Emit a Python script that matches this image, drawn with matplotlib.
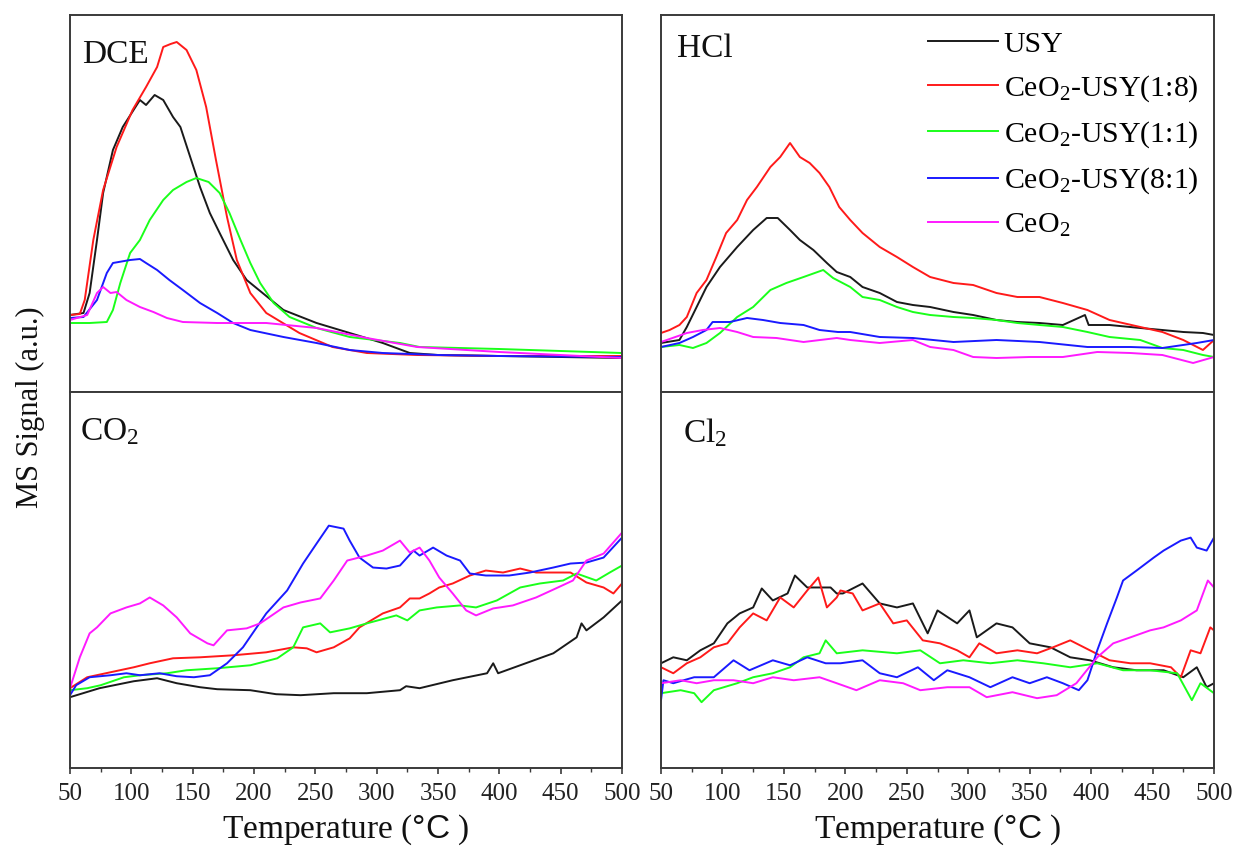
import matplotlib
matplotlib.use("Agg")
import matplotlib.pyplot as plt
from matplotlib.ticker import MultipleLocator

plt.rcParams["font.family"] = ["Liberation Serif", "DejaVu Serif"]
plt.rcParams["mathtext.fontset"] = "custom"
plt.rcParams["mathtext.rm"] = "Liberation Serif"
plt.rcParams["mathtext.it"] = "Liberation Serif:italic"
plt.rcParams["mathtext.bf"] = "Liberation Serif:bold"
plt.rcParams["mathtext.sf"] = "Liberation Sans"

# ---------------------------------------------------------------- samples
samples = ["USY", r"CeO$_2$-USY(1:8)", r"CeO$_2$-USY(1:1)",
           r"CeO$_2$-USY(8:1)", r"CeO$_2$"]
colors = ["#1a1a1a", "#ff1a1a", "#1aff1a", "#1a1aff", "#ff1aff"]

# ---------------------------------------------------------------- DCE
dce_usy_t = [50, 61, 66, 72, 77, 85, 93, 107, 112, 119, 126, 134, 140, 148, 156, 164, 172, 183, 194, 207, 224, 251, 278, 305, 327, 350, 400, 450, 500]
dce_usy_v = [77, 79, 99, 152, 199, 242, 265, 292, 287, 297, 292, 275, 265, 235, 205, 179, 159, 132, 112, 99, 82, 69, 59, 49, 39, 37, 36, 35, 34]
dce_18_t = [50, 58, 62, 69, 77, 88, 101, 112, 121, 126, 132, 137, 145, 153, 161, 169, 178, 186, 197, 210, 237, 264, 292, 333, 400, 450, 500]
dce_18_v = [77, 78, 92, 152, 202, 245, 282, 305, 325, 345, 348, 350, 342, 322, 285, 232, 175, 132, 99, 79, 59, 45, 39, 37, 36, 36, 36]
dce_11_t = [50, 66, 80, 85, 91, 99, 107, 115, 126, 134, 145, 153, 163, 172, 180, 189, 197, 205, 216, 229, 251, 278, 319, 335, 400, 500]
dce_11_v = [69, 69, 70, 82, 109, 139, 152, 172, 192, 202, 210, 214, 210, 199, 179, 152, 129, 109, 89, 75, 64, 55, 49, 45, 43, 39]
dce_81_t = [50, 61, 72, 80, 85, 99, 107, 112, 121, 131, 142, 156, 170, 183, 197, 224, 251, 278, 305, 350, 400, 500]
dce_81_v = [74, 75, 92, 119, 129, 132, 133, 129, 122, 112, 102, 89, 79, 69, 62, 55, 49, 42, 39, 37, 36, 35]
dce_ceo2_t = [50, 64, 72, 77, 83, 88, 96, 107, 118, 129, 142, 170, 210, 251, 292, 333, 400, 500]
dce_ceo2_v = [72, 77, 99, 105, 99, 100, 92, 85, 80, 74, 70, 69, 69, 64, 54, 45, 40, 34]

# ---------------------------------------------------------------- HCl
hcl_usy_t = [50, 65, 71, 79, 87, 98, 112, 125, 136, 145, 155, 163, 174, 185, 193, 204, 214, 228, 242, 255, 269, 288, 304, 323, 340, 358, 377, 395, 398, 415, 440, 458, 475, 491, 500]
hcl_usy_v = [49, 52, 65, 85, 105, 125, 145, 162, 174, 174, 162, 152, 142, 129, 120, 115, 105, 99, 90, 87, 85, 80, 77, 72, 70, 69, 67, 77, 67, 67, 64, 62, 60, 59, 57]
hcl_18_t = [50, 57, 65, 71, 79, 87, 95, 103, 112, 120, 128, 139, 147, 155, 163, 171, 179, 187, 195, 204, 214, 228, 242, 255, 269, 288, 304, 323, 340, 358, 377, 397, 415, 440, 458, 475, 491, 500]
hcl_18_v = [59, 62, 67, 75, 99, 112, 135, 159, 172, 192, 205, 225, 235, 249, 235, 229, 219, 205, 185, 172, 159, 145, 135, 125, 115, 109, 107, 99, 95, 95, 89, 82, 72, 65, 60, 52, 42, 52]
hcl_11_t = [50, 65, 76, 87, 98, 112, 125, 139, 152, 166, 182, 190, 204, 214, 228, 242, 255, 269, 288, 304, 323, 340, 358, 377, 397, 415, 440, 458, 475, 491, 500]
hcl_11_v = [45, 47, 44, 49, 59, 75, 85, 102, 109, 115, 122, 114, 105, 95, 92, 85, 80, 77, 75, 74, 72, 69, 67, 65, 60, 55, 52, 44, 42, 37, 35]
hcl_81_t = [50, 65, 76, 87, 92, 106, 120, 133, 147, 166, 179, 194, 204, 228, 255, 288, 323, 358, 397, 432, 458, 486, 500]
hcl_81_v = [45, 49, 55, 62, 70, 70, 74, 72, 69, 67, 62, 60, 60, 55, 54, 50, 52, 50, 45, 45, 44, 49, 52]
hcl_ceo2_t = [50, 71, 84, 98, 112, 125, 144, 166, 193, 204, 228, 255, 269, 288, 304, 323, 350, 377, 405, 432, 458, 483, 500]
hcl_ceo2_v = [50, 59, 62, 64, 60, 55, 54, 50, 54, 52, 49, 52, 45, 42, 35, 34, 35, 35, 40, 39, 37, 29, 35]

# ---------------------------------------------------------------- CO2
co2_usy_t = [50, 74, 102, 121, 137, 156, 170, 197, 218, 238, 265, 292, 319, 324, 335, 362, 390, 395, 399, 417, 444, 463, 467, 471, 485, 500]
co2_usy_v = [71, 80, 87, 90, 85, 81, 79, 78, 74, 73, 75, 75, 78, 82, 80, 88, 95, 105, 95, 103, 115, 131, 145, 138, 151, 168]
co2_18_t = [50, 64, 83, 102, 115, 134, 156, 183, 210, 232, 243, 251, 265, 278, 286, 305, 319, 327, 335, 343, 351, 362, 376, 389, 403, 417, 430, 444, 458, 471, 485, 493, 500]
co2_18_v = [80, 91, 96, 101, 105, 110, 111, 113, 116, 121, 120, 116, 121, 130, 141, 155, 161, 170, 170, 175, 181, 185, 193, 198, 196, 200, 196, 196, 196, 186, 181, 175, 185]
co2_11_t = [50, 64, 75, 94, 107, 129, 145, 170, 197, 219, 232, 240, 254, 262, 278, 292, 316, 325, 335, 349, 368, 381, 398, 417, 433, 452, 463, 479, 490, 500]
co2_11_v = [78, 80, 83, 91, 93, 95, 98, 100, 103, 110, 121, 141, 145, 136, 140, 145, 153, 148, 158, 161, 163, 161, 168, 181, 185, 188, 195, 188, 196, 203]
co2_81_t = [50, 55, 66, 83, 96, 107, 123, 137, 151, 164, 178, 191, 210, 227, 240, 251, 261, 273, 278, 286, 297, 308, 319, 330, 335, 346, 357, 368, 376, 389, 408, 425, 444, 458, 471, 485, 500]
co2_81_v = [73, 83, 91, 93, 95, 93, 95, 92, 91, 93, 105, 121, 155, 178, 205, 225, 243, 240, 228, 211, 201, 200, 203, 218, 213, 221, 213, 208, 195, 193, 193, 196, 201, 205, 206, 211, 231]
co2_ceo2_t = [50, 58, 66, 72, 83, 96, 107, 115, 126, 137, 148, 162, 167, 178, 194, 205, 224, 238, 254, 265, 276, 292, 305, 319, 327, 335, 343, 351, 362, 373, 381, 395, 411, 430, 446, 460, 471, 485, 500]
co2_ceo2_v = [80, 111, 135, 141, 155, 161, 165, 171, 163, 151, 135, 125, 123, 138, 140, 145, 161, 166, 170, 188, 208, 213, 218, 228, 216, 221, 208, 191, 175, 158, 153, 160, 163, 171, 180, 188, 208, 215, 236]

# ---------------------------------------------------------------- Cl2
cl2_usy_t = [50, 60, 71, 82, 93, 104, 114, 125, 132, 141, 153, 159, 169, 179, 188, 193, 198, 214, 228, 242, 255, 267, 275, 291, 301, 307, 323, 336, 350, 367, 383, 399, 418, 437, 459, 475, 486, 494, 500]
cl2_usy_v = [105, 111, 108, 118, 125, 145, 155, 161, 180, 168, 175, 193, 181, 181, 181, 175, 175, 185, 165, 161, 165, 135, 158, 145, 158, 131, 145, 141, 125, 121, 111, 108, 101, 98, 98, 91, 101, 81, 85]
cl2_18_t = [50, 60, 71, 82, 93, 104, 114, 125, 136, 147, 158, 169, 178, 185, 193, 196, 206, 214, 228, 239, 250, 263, 277, 291, 301, 309, 323, 340, 356, 369, 383, 399, 415, 432, 448, 465, 473, 481, 489, 497, 500]
cl2_18_v = [101, 95, 105, 111, 121, 125, 141, 155, 148, 171, 161, 178, 191, 161, 171, 178, 175, 158, 165, 145, 148, 128, 125, 118, 111, 125, 115, 118, 115, 121, 128, 118, 108, 105, 105, 101, 91, 118, 115, 141, 138]
cl2_11_t = [50, 66, 77, 83, 93, 112, 125, 141, 155, 166, 179, 184, 193, 214, 242, 261, 277, 296, 318, 340, 361, 383, 405, 426, 448, 470, 482, 489, 500]
cl2_11_v = [75, 78, 75, 66, 78, 85, 91, 95, 101, 111, 115, 128, 115, 118, 115, 118, 105, 108, 105, 108, 105, 101, 105, 98, 98, 95, 68, 85, 75]
cl2_81_t = [50, 52, 60, 77, 93, 109, 122, 141, 155, 169, 184, 196, 214, 228, 242, 259, 272, 283, 301, 318, 336, 350, 364, 377, 390, 397, 405, 413, 421, 426, 437, 451, 459, 473, 481, 486, 494, 500]
cl2_81_v = [68, 88, 85, 91, 91, 108, 98, 108, 103, 111, 105, 105, 108, 95, 91, 101, 88, 98, 91, 81, 91, 85, 91, 85, 78, 88, 118, 145, 171, 188, 198, 211, 218, 228, 231, 221, 218, 231]
cl2_ceo2_t = [50, 66, 79, 93, 109, 125, 141, 158, 179, 193, 209, 228, 247, 261, 283, 301, 315, 336, 356, 372, 388, 405, 418, 432, 448, 459, 473, 486, 495, 500]
cl2_ceo2_v = [85, 88, 85, 88, 88, 85, 91, 88, 91, 85, 78, 88, 85, 78, 81, 81, 71, 76, 70, 73, 85, 111, 125, 131, 138, 141, 148, 158, 188, 181]

panels = [
    ("DCE", [(dce_usy_t, dce_usy_v), (dce_18_t, dce_18_v), (dce_11_t, dce_11_v),
             (dce_81_t, dce_81_v), (dce_ceo2_t, dce_ceo2_v)]),
    ("HCl", [(hcl_usy_t, hcl_usy_v), (hcl_18_t, hcl_18_v), (hcl_11_t, hcl_11_v),
             (hcl_81_t, hcl_81_v), (hcl_ceo2_t, hcl_ceo2_v)]),
    (r"CO$_2$", [(co2_usy_t, co2_usy_v), (co2_18_t, co2_18_v), (co2_11_t, co2_11_v),
                 (co2_81_t, co2_81_v), (co2_ceo2_t, co2_ceo2_v)]),
    (r"Cl$_2$", [(cl2_usy_t, cl2_usy_v), (cl2_18_t, cl2_18_v), (cl2_11_t, cl2_11_v),
                 (cl2_81_t, cl2_81_v), (cl2_ceo2_t, cl2_ceo2_v)]),
]

# ---------------------------------------------------------------- layout
W, H = 1236, 850
fig = plt.figure(figsize=(W / 100, H / 100), dpi=100)

def frac(x0, y0, x1, y1):
    return [x0 / W, 1 - y1 / H, (x1 - x0) / W, (y1 - y0) / H]

rects = [frac(70, 15, 622, 392), frac(661, 15, 1214, 392),
         frac(70, 392, 622, 768), frac(661, 392, 1214, 768)]
label_pos = [(0.022, 0.873), (0.029, 0.889), (0.018, 0.872), (0.040, 0.867)]
frame_color = "#3a3a3a"

axes = []
for i, ((name, series), rect) in enumerate(zip(panels, rects)):
    ax = fig.add_axes(rect)
    axes.append(ax)
    for (t, v), c, lab in zip(series, colors, samples):
        ax.plot(t, v, color=c, lw=1.4, label=lab)
    ax.set_xlim(50, 500)
    ax.set_ylim(0, 377)
    ax.set_yticks([])
    for s in ax.spines.values():
        s.set_color(frame_color)
        s.set_linewidth(1.4)
    ax.text(label_pos[i][0], label_pos[i][1], name, transform=ax.transAxes,
            fontsize=24, va="baseline", ha="left", color="#111111")
    if i < 2:
        ax.tick_params(axis="x", which="both", bottom=False, labelbottom=False)
    else:
        ax.xaxis.set_major_locator(MultipleLocator(50))
        ax.xaxis.set_minor_locator(MultipleLocator(25))
        ax.tick_params(axis="x", which="major", direction="out", length=4,
                       width=1.2, color=frame_color, labelsize=18, pad=7,
                       labelcolor="#222222")
        ax.tick_params(axis="x", which="minor", direction="out", length=3,
                       width=1.0, color=frame_color)
        ax.set_xlabel(r"Temperature ($\mathsf{°C}$ )", fontsize=24,
                      labelpad=5, color="#111111")

fig.text(30 / W, 1 - 407 / H, "MS Signal (a.u.)", rotation=90, fontsize=22,
         ha="center", va="center", color="#111111")

handles, labels = axes[1].get_legend_handles_labels()
axes[1].legend(handles, labels, loc="upper left",
               bbox_to_anchor=(0.482, 0.958), frameon=False, fontsize=21.5,
               handlelength=2.35, handletextpad=0.2, labelspacing=0.52,
               borderpad=0, borderaxespad=0)

fig.savefig("out.png", dpi=100, facecolor="white")
